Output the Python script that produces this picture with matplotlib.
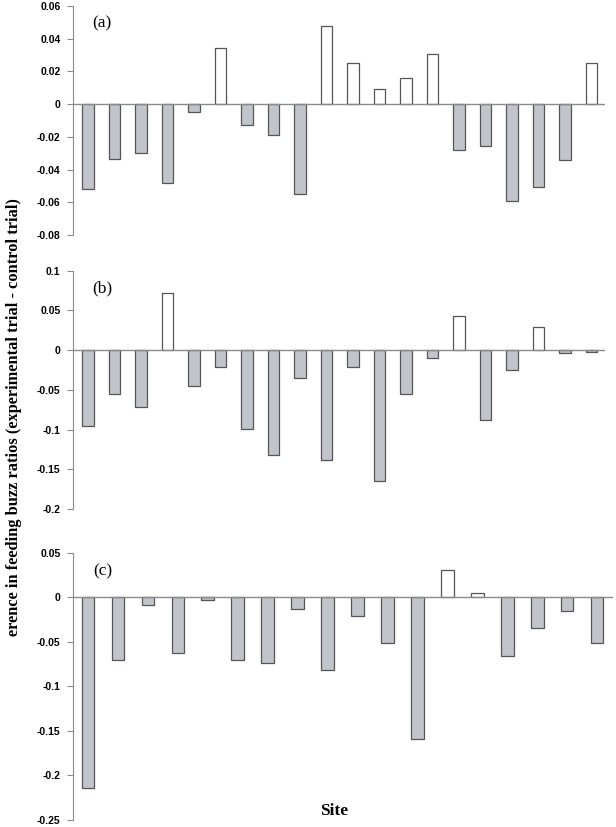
import matplotlib
matplotlib.use("Agg")
import matplotlib.pyplot as plt
import numpy as np

# ---- data ----
vals_a = [-0.052, -0.0336, -0.030, -0.048, -0.0049, 0.0346, -0.013, -0.019, -0.055, 0.0479,
          0.025, 0.0092, 0.0159, 0.0306, -0.0283, -0.0255, -0.0593, -0.0507, -0.0342, 0.0253]
vals_b = [-0.0953, -0.0555, -0.0716, 0.0725, -0.0449, -0.0208, -0.0992, -0.1314, -0.0356, -0.1386,
          -0.0216, -0.165, -0.0555, -0.0093, 0.0432, -0.0877, -0.0254, 0.0292, -0.0038, -0.0025]
vals_c = [-0.2138, -0.0705, -0.009, -0.0623, -0.0034, -0.0709, -0.0735, -0.0134, -0.0821, -0.0209,
          -0.0511, -0.159, 0.0306, 0.0045, -0.0657, -0.0347, -0.0157, -0.0511]

ticks_a = [0.06, 0.04, 0.02, 0, -0.02, -0.04, -0.06, -0.08]
ticks_b = [0.1, 0.05, 0, -0.05, -0.1, -0.15, -0.2]
ticks_c = [0.05, 0, -0.05, -0.1, -0.15, -0.2, -0.25]
labels_a = ["0.06", "0.04", "0.02", "0", "-0.02", "-0.04", "-0.06", "-0.08"]
labels_b = ["0.1", "0.05", "0", "-0.05", "-0.1", "-0.15", "-0.2"]
labels_c = ["0.05", "0", "-0.05", "-0.1", "-0.15", "-0.2", "-0.25"]
panel_names = ["(a)", "(b)", "(c)"]
ylabel_text = "erence in feeding buzz ratios (experimental trial - control trial)"
xlabel_text = "Site"

W, H = 616, 827
fig = plt.figure(figsize=(W / 100, H / 100), dpi=100)

def frac_rect(left_px, right_px, top_px, bottom_px):
    return [left_px / W, 1 - bottom_px / H, (right_px - left_px) / W, (bottom_px - top_px) / H]

panels = [
    dict(vals=vals_a, ticks=ticks_a, labels=labels_a, rect=frac_rect(73, 605, 6, 235),
         xlim=(-0.566, 19.51), width=0.43),
    dict(vals=vals_b, ticks=ticks_b, labels=labels_b, rect=frac_rect(73, 605, 270.7, 509),
         xlim=(-0.566, 19.51), width=0.43),
    dict(vals=vals_c, ticks=ticks_c, labels=labels_c, rect=frac_rect(73, 613, 552.7, 820),
         xlim=(-0.50, 17.53), width=0.42),
]

fill_neg = "#c1c5cb"
edge = "#555555"
axis_gray = "#8a8a8a"

for p, name in zip(panels, panel_names):
    ax = fig.add_axes(p["rect"])
    v = np.array(p["vals"])
    x = np.arange(len(v))
    colors = [fill_neg if val < 0 else "white" for val in v]
    ax.bar(x, v, width=p["width"], color=colors, edgecolor=edge, linewidth=0.9, zorder=2)
    ax.axhline(0, color=axis_gray, linewidth=1.0, zorder=3)
    ax.set_xlim(*p["xlim"])
    ax.set_ylim(min(p["ticks"]), max(p["ticks"]))
    ax.set_yticks(p["ticks"])
    ax.set_yticklabels(p["labels"], fontfamily="Liberation Sans", fontweight="bold", fontsize=7.5)
    ax.tick_params(axis="y", direction="out", length=4, width=0.8, color=axis_gray, pad=5)
    ax.set_xticks([])
    for s in ["top", "right", "bottom"]:
        ax.spines[s].set_visible(False)
    ax.spines["left"].set_color(axis_gray)
    ax.spines["left"].set_linewidth(0.8)
    ax.text(0.037, 0.96, name, transform=ax.transAxes, fontfamily="Liberation Serif",
            fontsize=12.5, va="top", ha="left")

fig.text(14 / W, 1 - 417 / H, ylabel_text, rotation=90, fontfamily="Liberation Serif",
         fontweight="bold", fontsize=11.8, ha="center", va="center")
fig.text(334 / W, 1 - 811 / H, xlabel_text, fontfamily="Liberation Serif",
         fontweight="bold", fontsize=12.5, ha="center", va="center")

fig.savefig("out.png", dpi=100)
